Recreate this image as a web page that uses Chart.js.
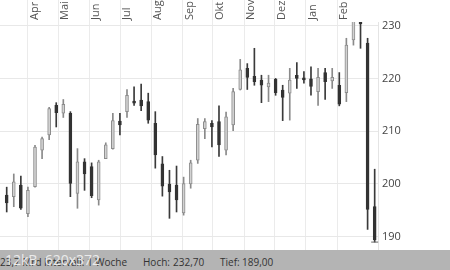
<!DOCTYPE html>
<html><head><meta charset="utf-8">
<script src="https://cdn.jsdelivr.net/npm/chart.js@4.4.1/dist/chart.umd.min.js"></script>
<style>
html,body{margin:0;padding:0;background:#fff;width:450px;height:270px;overflow:hidden;}
#wrap{position:relative;width:450px;height:270px;}
canvas{display:block;}
#bar{position:absolute;left:0;top:250px;width:450px;height:20px;background:#b4b4b4;font-family:'Open Sans';font-size:10px;color:#333;}
#bar span{position:absolute;top:5px;line-height:14px;white-space:nowrap;}
#ov{position:absolute;left:5px;top:251px;font-family:'Open Sans';font-size:14px;line-height:18px;color:rgba(238,238,238,0.95);white-space:nowrap;}
</style></head>
<body>
<div id="wrap">
<canvas id="c" width="450" height="250"></canvas>
<div id="bar">
<span style="left:0px">23,7 Mrd</span>
<span style="right:323px">Intervall: 1 Woche</span>
<span style="left:143px">Hoch:</span>
<span style="left:173px">232,70</span>
<span style="left:220px">Tief:</span>
<span style="left:242px">189,00</span>
</div>
<div id="ov">12kB&nbsp; 620x372</div>
</div>
<script>
// weekly candles (index = week number)
const openV  = [197.9,197.6,199.8,194.4,199.5,206.4,209.3,214.9,213.4,213.4,198.2,204.2,203.3,197.0,204.8,206.7,211.9,213.7,215.7,215.9,215.6,211.5,203.8,200.0,199.8,194.5,200.0,204.5,210.5,211.5,211.8,206.4,211.2,217.9,221.9,220.4,219.7,218.4,219.8,217.8,217.2,220.6,220.1,219.9,217.5,221.1,219.5,218.7,217.3,227.3,232.0,226.7,195.7];
const highV  = [199.4,201.9,201.5,199.4,207.3,208.9,214.5,215.4,216.0,213.7,206.7,204.8,204.0,204.5,207.8,213.4,213.4,217.9,218.4,218.9,217.2,213.7,205.2,202.6,203.4,201.3,204.5,212.4,212.4,212.0,214.8,213.6,218.1,223.6,222.8,225.7,220.6,220.6,220.0,218.7,221.9,223.0,221.3,222.2,221.9,221.9,221.9,221.1,227.6,231.4,232.7,227.6,202.8];
const lowV   = [194.7,195.7,195.2,193.8,199.4,204.8,208.4,210.8,212.6,197.6,195.4,198.8,197.4,196.0,204.8,206.6,209.3,212.6,214.9,213.9,211.5,203.0,197.7,193.5,194.7,194.1,199.2,203.9,208.6,207.0,205.2,205.5,210.1,217.8,217.9,218.7,215.4,215.6,216.8,212.0,212.1,218.1,219.1,216.8,214.9,216.0,218.1,214.8,215.6,226.3,225.7,191.4,189.0];
const closeV = [196.4,200.4,195.4,198.8,207.0,208.6,214.3,213.5,215.1,200.1,204.2,201.9,197.8,204.2,207.4,212.0,211.2,216.8,215.3,214.8,212.1,205.5,199.6,198.5,197.0,200.1,204.0,211.3,211.8,210.8,207.4,212.7,217.5,221.6,220.2,219.4,218.7,219.1,217.3,216.4,219.7,220.0,219.7,218.5,220.2,219.4,220.2,215.1,226.3,230.9,230.3,195.2,189.4];
// month boundaries (in week units) and labels of the top axis
const monthPos    = [3.0, 7.3, 11.7, 16.05, 20.45, 24.86, 29.15, 33.57, 37.9, 42.29, 46.71];
const monthLabels = ['Apr','Mai','Jun','Jul','Aug','Sep','Okt','Nov','Dez','Jan','Feb'];
const yTicks = [190, 200, 210, 220, 230];
// period extremes
const hochIdx = 50, hochV = 232.7;
const tiefIdx = 52, tiefV = 189.0;

const up = openV.map((o,i)=>closeV[i] >= o);
const bodyData = openV.map((o,i)=>({x:i, y:[o, closeV[i]]}));
const wickData = openV.map((o,i)=>({x:i, y:[lowV[i], highV[i]]}));

const noPad = s => { s.paddingLeft = 0; s.paddingRight = 0; s.paddingTop = 0; s.paddingBottom = 0; };

new Chart(document.getElementById('c'), {
  type: 'bar',
  data: {
    datasets: [
      {
        data: bodyData, order: 0, grouped: false, barThickness: 3,
        backgroundColor: up.map(u => u ? '#d2d2d2' : '#333333'),
        borderColor: up.map(u => u ? '#8c8c8c' : '#333333'),
        borderWidth: 1, borderSkipped: false
      },
      {
        type: 'line', showLine: false, order: 1, clip: false,
        data: [{x:hochIdx, y:hochV}, {x:tiefIdx, y:tiefV}],
        pointStyle: 'line', pointRadius: 3.5, borderColor: '#666', borderWidth: 1
      },
      {
        data: wickData, order: 2, grouped: false, barThickness: 1,
        backgroundColor: up.map(u => u ? '#8a8a8a' : '#3a3a3a'),
        borderWidth: 0
      }
    ]
  },
  options: {
    responsive: false, animation: false, devicePixelRatio: 1,
    layout: {padding: 0, autoPadding: false},
    plugins: {legend: {display:false}, tooltip: {enabled:false}},
    scales: {
      x: {
        type: 'linear', position: 'top', min: -0.947, max: 52.47, offset: false,
        afterBuildTicks: s => { s.ticks = monthPos.map(v => ({value:v})); },
        afterFit: s => { s.height = 22; noPad(s); },
        ticks: {
          autoSkip: false, maxRotation: 90, minRotation: 90,
          labelOffset: 20, padding: -20, font: {family:'Open Sans', size:11}, color: '#555',
          callback: (v, i) => monthLabels[i]
        },
        grid: {color: '#ebebeb', tickLength: 22, drawTicks: true, offset: false},
        border: {display: false}
      },
      y: {
        position: 'right', min: 187.5, max: 230.68,
        afterBuildTicks: s => { s.ticks = yTicks.map(v => ({value:v})); },
        afterFit: s => { s.width = 72; noPad(s); },
        ticks: {padding: 4, font: {family:'Open Sans', size:11}, color: '#444'},
        grid: {color: '#e8e8e8', drawTicks: false},
        border: {display: true, color: '#e4e4e4'}
      }
    }
  }
});
</script>
</body></html>
